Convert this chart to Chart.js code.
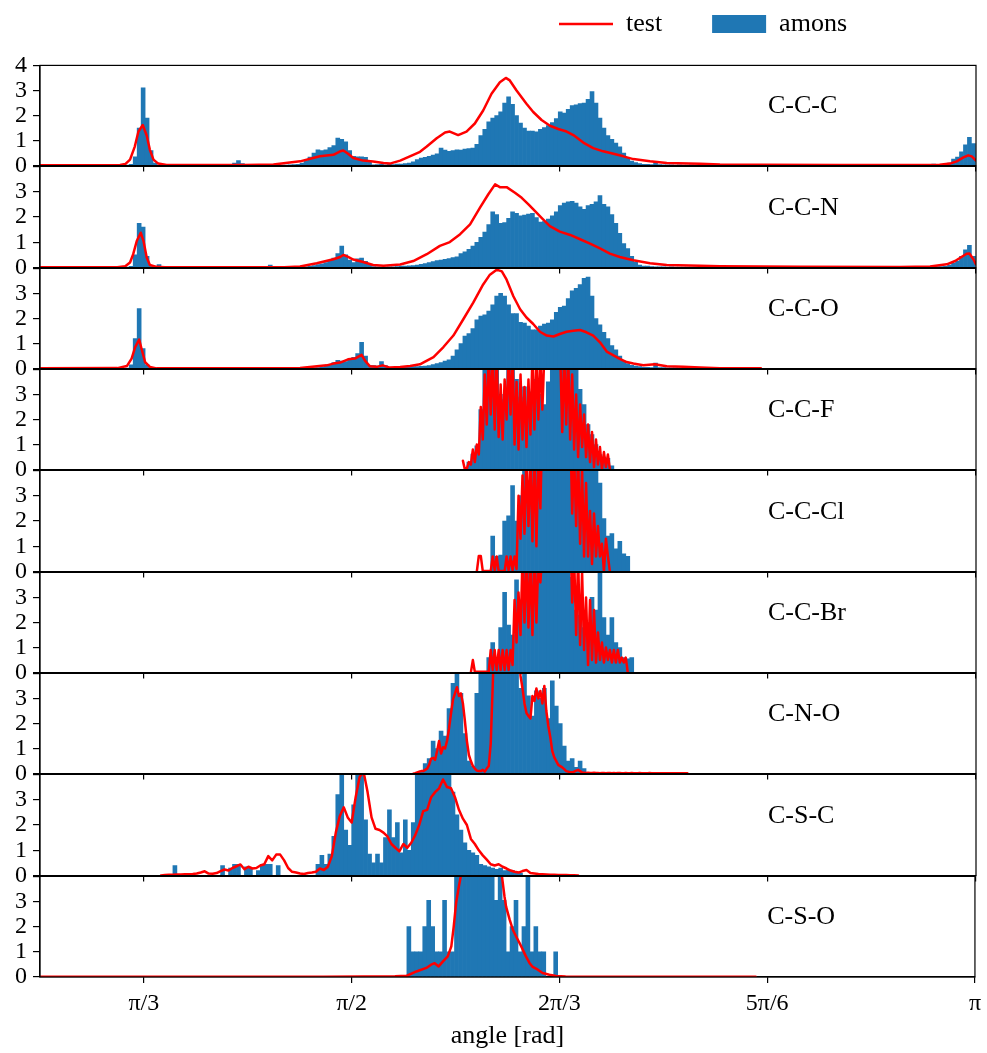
<!DOCTYPE html>
<html>
<head>
<meta charset="utf-8">
<script src="https://cdn.jsdelivr.net/npm/chart.js@4.4.0/dist/chart.umd.min.js"></script>
<style>
  body { margin: 0; background: #fff; }
  #wrap { position: relative; width: 987px; height: 1053px; overflow: hidden; background: #fff; }
  #wrap canvas { position: absolute; }
</style>
</head>
<body>
<div id="wrap"></div>
<script>
// ---- axis values ----
const angleMin = Math.PI / 4;
const angleMax = Math.PI;
const tickValues = [Math.PI / 3, Math.PI / 2, 2 * Math.PI / 3, 5 * Math.PI / 6, Math.PI];
const tickLabels = ['π/3', 'π/2', '2π/3', '5π/6', 'π'];
const yTickValues = [0, 1, 2, 3, 4];
const panelNames = ['C-C-C', 'C-C-N', 'C-C-O', 'C-C-F', 'C-C-Cl', 'C-C-Br', 'C-N-O', 'C-S-C', 'C-S-O'];

// histogram bins are 0.01 rad wide, each array starts at its *BarStart angle
const binWidth = 0.01;

// ---- C-C-C ----
const cccBarStart = 1.00;
const cccBars = [
  0.01, 0.05, 0.35, 1.5, 3.1, 1.9, 0.6, 0.1, 0.02, 0,
  0, 0, 0, 0, 0, 0, 0, 0, 0, 0,
  0.02, 0, 0.03, 0, 0.04, 0, 0.02, 0.1, 0.2, 0.08,
  0.03, 0, 0.02, 0, 0.03, 0.01, 0.02, 0.01, 0.03, 0.02,
  0.02, 0.03, 0.04, 0.05, 0.1, 0.2, 0.34, 0.5, 0.63, 0.6,
  0.63, 0.72, 0.8, 1.1, 1.05, 0.95, 0.6, 0.37, 0.35, 0.35,
  0.33, 0.15, 0.03, 0.04, 0.05, 0.03, 0.05, 0.04, 0.06, 0.06,
  0.08, 0.1, 0.15, 0.24, 0.3, 0.33, 0.37, 0.42, 0.47, 0.7,
  0.62, 0.57, 0.6, 0.63, 0.62, 0.66, 0.68, 0.7, 0.85, 1.2,
  1.45, 1.75, 1.9, 2.0, 2.15, 2.5, 2.75, 2.45, 2.0, 1.7,
  1.5, 1.38, 1.38, 1.35, 1.45, 1.52, 1.6, 1.72, 1.88, 2.15,
  2.1, 2.25, 2.4, 2.43, 2.48, 2.5, 2.65, 2.95, 2.5, 1.9,
  1.5, 1.2, 1.05, 0.9, 0.75, 0.5, 0.3, 0.18, 0.12, 0.08,
  0.05, 0.05, 0.04, 0.15, 0.04, 0.03, 0.03, 0.03, 0.02, 0.03,
  0.02, 0.02, 0.03, 0.02, 0.02, 0.01, 0.02, 0.01, 0.01, 0.01,
  0.01, 0.01, 0.01, 0, 0.01, 0, 0.01, 0, 0, 0,
  0, 0, 0, 0, 0, 0, 0, 0, 0, 0,
  0, 0, 0, 0, 0, 0, 0, 0, 0, 0,
  0, 0, 0, 0, 0, 0, 0, 0, 0, 0,
  0, 0, 0, 0, 0, 0.03, 0.04, 0.02, 0.05, 0.04,
  0.05, 0.03, 0.05, 0.06, 0.05, 0.04, 0.06, 0.1, 0.26, 0.34,
  0.55, 0.83, 1.13, 0.88
];
const cccLineX = [0.785, 0.95, 0.987, 1.000, 1.012, 1.024, 1.033, 1.044, 1.054, 1.062,
  1.071, 1.083, 1.104, 1.30, 1.373, 1.44, 1.473, 1.49, 1.524, 1.541,
  1.549, 1.561, 1.574, 1.599, 1.624, 1.65, 1.666, 1.692, 1.725, 1.742,
  1.759, 1.784, 1.805, 1.817, 1.838, 1.859, 1.88, 1.901, 1.922, 1.943,
  1.958, 1.968, 1.985, 2.01, 2.027, 2.048, 2.069, 2.09, 2.111, 2.128,
  2.153, 2.178, 2.203, 2.229, 2.254, 2.279, 2.321, 2.363, 2.447, 2.497,
  2.6, 2.8, 3.0, 3.05, 3.076, 3.093, 3.11, 3.122, 3.131, 3.139, 3.1416];
const cccLineY = [0.01, 0.01, 0.02, 0.06, 0.24, 0.76, 1.35, 1.62, 1.2, 0.63,
  0.24, 0.08, 0.02, 0.02, 0.04, 0.17, 0.3, 0.37, 0.43, 0.57,
  0.6, 0.47, 0.3, 0.2, 0.16, 0.1, 0.08, 0.2, 0.43, 0.55,
  0.76, 1.09, 1.32, 1.36, 1.22, 1.36, 1.68, 2.2, 2.87, 3.33,
  3.5, 3.4, 3.0, 2.47, 2.14, 1.82, 1.59, 1.46, 1.36, 1.22,
  0.92, 0.7, 0.57, 0.47, 0.37, 0.26, 0.17, 0.1, 0.07, 0.04,
  0.03, 0.02, 0.02, 0.03, 0.08, 0.17, 0.33, 0.41, 0.37, 0.24, 0.2];

// ---- C-C-N ----
const ccnBarStart = 1.00;
const ccnBars = [
  0.01, 0.05, 0.5, 1.75, 1.6, 0.45, 0.08, 0.05, 0.12, 0.05,
  0.02, 0, 0, 0, 0, 0, 0, 0, 0, 0,
  0, 0, 0, 0, 0, 0, 0, 0, 0, 0,
  0, 0, 0, 0, 0, 0, 0.1, 0, 0, 0,
  0, 0, 0.01, 0.02, 0.02, 0.03, 0.05, 0.08, 0.12, 0.15,
  0.2, 0.28, 0.38, 0.55, 0.85, 0.5, 0.3, 0.2, 0.35, 0.38,
  0.25, 0.12, 0.04, 0.03, 0.02, 0.02, 0.03, 0.03, 0.04, 0.06,
  0.06, 0.07, 0.08, 0.1, 0.13, 0.16, 0.2, 0.24, 0.28, 0.3,
  0.33, 0.36, 0.4, 0.43, 0.55, 0.62, 0.72, 0.85, 1.0, 1.2,
  1.4, 1.7, 2.2, 2.1, 1.75, 1.78, 1.95, 2.2, 2.15, 2.05,
  2.08, 2.12, 2.15, 1.98, 1.8, 1.82, 1.92, 2.05, 2.2, 2.45,
  2.55, 2.6, 2.62, 2.55, 2.4, 2.3, 2.45, 2.5, 2.6, 2.85,
  2.5, 2.4, 2.1, 1.75, 1.35, 0.95, 0.75, 0.45, 0.22, 0.1,
  0.06, 0.06, 0.04, 0.03, 0.03, 0.03, 0.02, 0.03, 0.02, 0.02,
  0.02, 0.02, 0.01, 0.02, 0.01, 0.01, 0.01, 0.01, 0.01, 0.01,
  0.01, 0, 0.01, 0, 0, 0.01, 0, 0, 0, 0,
  0, 0, 0, 0, 0, 0, 0, 0, 0, 0,
  0, 0, 0, 0, 0, 0, 0, 0, 0, 0,
  0, 0, 0, 0, 0, 0, 0, 0, 0, 0,
  0, 0, 0, 0, 0, 0, 0.02, 0.02, 0.03, 0.02,
  0.03, 0.03, 0.04, 0.03, 0.04, 0.04, 0.05, 0.1, 0.18, 0.26,
  0.45, 0.7, 0.88, 0.45
];
const ccnLineX = [0.785, 0.98, 1.0, 1.012, 1.020, 1.029, 1.039, 1.046, 1.054, 1.062,
  1.079, 1.10, 1.40, 1.44, 1.482, 1.524, 1.541, 1.549, 1.561, 1.574,
  1.599, 1.624, 1.65, 1.692, 1.725, 1.759, 1.792, 1.817, 1.843, 1.868,
  1.893, 1.914, 1.931, 1.943, 1.96, 1.981, 1.998, 2.015, 2.031, 2.048,
  2.069, 2.094, 2.12, 2.145, 2.17, 2.195, 2.22, 2.245, 2.279, 2.321,
  2.363, 2.447, 2.497, 2.7, 2.95, 3.026, 3.068, 3.089, 3.105, 3.118,
  3.125, 3.135, 3.1416];
const ccnLineY = [0.01, 0.01, 0.05, 0.2, 0.53, 1.05, 1.38, 1.05, 0.4, 0.1,
  0.03, 0.01, 0.01, 0.04, 0.17, 0.33, 0.42, 0.5, 0.42, 0.32,
  0.22, 0.1, 0.07, 0.12, 0.26, 0.53, 0.86, 1.01, 1.32, 1.71,
  2.37, 2.9, 3.29, 3.18, 3.18, 2.96, 2.76, 2.5, 2.24, 1.97,
  1.64, 1.42, 1.29, 1.12, 0.95, 0.76, 0.55, 0.42, 0.29, 0.17,
  0.1, 0.07, 0.05, 0.03, 0.02, 0.04, 0.13, 0.26, 0.42, 0.55,
  0.56, 0.33, 0.13];

// ---- C-C-O ----
const ccoBarStart = 1.00;
const ccoBars = [
  0.02, 0.15, 1.2, 2.4, 0.8, 0.15, 0.03, 0, 0, 0,
  0, 0, 0, 0, 0, 0, 0, 0, 0, 0,
  0, 0, 0, 0, 0, 0, 0, 0, 0, 0,
  0, 0, 0, 0, 0, 0, 0, 0, 0, 0,
  0, 0, 0, 0, 0, 0.01, 0.02, 0.03, 0.04, 0.05,
  0.1, 0.15, 0.24, 0.33, 0.3, 0.28, 0.38, 0.45, 0.6, 1.05,
  0.5, 0.12, 0.12, 0.1, 0.28, 0.12, 0.04, 0.03, 0.04, 0.05,
  0.06, 0.07, 0.08, 0.08, 0.09, 0.1, 0.12, 0.16, 0.2, 0.24,
  0.3, 0.35, 0.5, 0.75, 1.0, 1.3, 1.4, 1.6, 1.95, 2.1,
  2.15, 2.3, 2.55, 2.9, 3.0, 2.9, 2.55, 2.2, 2.2, 1.85,
  1.82, 1.7, 1.55, 1.55, 1.7, 1.78, 1.82, 1.95, 2.25, 2.45,
  2.5, 2.8, 3.1, 3.2, 3.35, 3.6, 3.65, 2.9, 2.0, 1.75,
  1.45, 1.2, 0.92, 0.75, 0.5, 0.3, 0.2, 0.13, 0.1, 0.08,
  0.05, 0.05, 0.04, 0.22, 0.04, 0.04, 0.03, 0.03, 0.03, 0.02,
  0.02, 0.02, 0.01, 0.02, 0.01, 0.01, 0.01, 0, 0.01, 0
];
const ccoLineX = [0.785, 0.98, 1.004, 1.016, 1.025, 1.035, 1.041, 1.05, 1.062, 1.079,
  1.44, 1.507, 1.524, 1.541, 1.561, 1.578, 1.595, 1.603, 1.616, 1.633,
  1.648, 1.666, 1.692, 1.717, 1.742, 1.75, 1.776, 1.801, 1.826, 1.851,
  1.876, 1.901, 1.918, 1.935, 1.948, 1.96, 1.977, 1.994, 2.01, 2.027,
  2.044, 2.061, 2.078, 2.094, 2.111, 2.128, 2.145, 2.161, 2.178, 2.195,
  2.212, 2.229, 2.245, 2.262, 2.279, 2.304, 2.333, 2.363, 2.405, 2.447,
  2.497, 2.6];
const ccoLineY = [0.01, 0.02, 0.1, 0.4, 0.86, 1.16, 0.79, 0.26, 0.07, 0.01,
  0.02, 0.13, 0.2, 0.24, 0.37, 0.4, 0.55, 0.33, 0.09, 0.07,
  0.13, 0.04, 0.06, 0.1, 0.17, 0.24, 0.46, 0.86, 1.32, 1.97,
  2.63, 3.36, 3.75, 3.95, 3.88, 3.55, 2.89, 2.37, 2.04, 1.78,
  1.47, 1.32, 1.28, 1.38, 1.47, 1.51, 1.54, 1.45, 1.32, 1.05,
  0.68, 0.53, 0.39, 0.26, 0.2, 0.13, 0.17, 0.09, 0.07, 0.04,
  0.01, 0.01];

// ---- C-C-F ----
const ccfBarStart = 1.86;
const ccfBars = [
  0.3, 0.62, 0.95, 2.4, 4.5, 4.5, 4.5, 4.2, 2.8, 3.0,
  4.5, 4.5, 3.6, 2.9, 3.3, 2.5, 3.1, 3.6, 3.0, 2.6,
  3.5, 4.5, 4.5, 4.5, 4.5, 4.5, 4.5, 4.5, 3.2, 2.6,
  1.8, 1.4, 1.0, 0.6, 0.5, 0.45, 0.15
];
// noisy curves: one value every 0.005 rad from *LineStart
const ccfLineStart = 1.850;
const ccfLine = [
  0.35, 0.0, 0.05, 0.3, 0.2, 0.8, 0.3, 1.0, 0.6, 2.5,
  1.2, 3.8, 1.8, 4.6, 2.2, 4.6, 1.6, 4.6, 1.3, 3.4,
  1.2, 3.6, 2.0, 4.6, 2.2, 4.6, 1.0, 3.5, 0.8, 3.8,
  1.2, 3.3, 0.9, 3.6, 1.4, 4.6, 1.6, 4.6, 2.0, 4.6,
  2.4, 4.6, 5.5, 5.5, 5.5, 5.5, 5.5, 5.5, 5.5, 4.6,
  1.5, 4.6, 1.8, 4.6, 1.2, 3.8, 0.8, 3.0, 0.5, 2.6,
  0.9, 2.2, 0.5, 1.8, 0.3, 1.5, 0.1, 1.2, 0.2, 0.9,
  0.0, 0.7, 0.1, 0.6, 0.0
];

// ---- C-C-Cl ----
const ccclBarStart = 1.92;
const ccclBars = [
  1.4, 0.6, 0.65, 2.0, 2.2, 3.4, 2.0, 3.0, 4.5, 3.6,
  4.5, 4.5, 4.5, 4.5, 4.5, 4.5, 4.5, 4.5, 4.5, 4.5,
  4.5, 4.5, 4.5, 4.5, 4.5, 4.5, 4.5, 3.5, 2.1, 1.4,
  1.5, 0.9, 1.2, 0.7, 0.6
];
const ccclLineStart = 1.885;
const ccclLine = [
  0.0, 0.62, 0.62, 0.02, 0.02, 0.02, 0.02, 0.02, 0.6, 0.05,
  0.6, 0.02, 0.02, 0.02, 0.02, 0.6, 0.05, 0.6, 0.05, 0.6,
  0.1, 3.0, 1.3, 3.8, 1.5, 4.6, 1.8, 4.6, 1.2, 4.6,
  1.0, 4.6, 2.5, 6, 6, 6, 6, 6, 6, 6,
  6, 6, 6, 6, 6, 6, 6, 6, 2.3, 4.6,
  1.8, 4.6, 1.1, 4.0, 0.6, 3.5, 0.6, 2.4, 0.3, 2.3,
  0.6, 1.8, 0.6, 1.1, 0.0, 1.3, 0.6, 0.0
];

// ---- C-C-Br ----
const ccbrBarStart = 1.91;
const ccbrBars = [
  0.6, 1.2, 0.6, 1.8, 3.2, 1.9, 1.5, 3.7, 2.9, 4.5,
  4.5, 4.5, 4.5, 4.5, 4.5, 4.5, 4.5, 4.5, 4.5, 4.5,
  4.5, 3.8, 2.5, 2.3, 1.8, 2.0, 3.0, 2.5, 4.2, 2.2,
  1.5, 2.2, 1.2, 1.0, 0.6, 0.55, 0.6
];
const ccbrLineStart = 1.870;
const ccbrLine = [
  0.0, 0.5, 0.03, 0.03, 0.03, 0.03, 0.03, 0.03, 0.03, 0.03,
  0.9, 0.1, 0.9, 0.1, 0.9, 0.1, 0.9, 0.1, 0.9, 0.1,
  0.9, 0.3, 2.9, 1.2, 3.2, 1.5, 4.6, 2.0, 4.6, 1.8,
  4.6, 1.5, 4.6, 2.0, 4.6, 3.6, 4.8, 6, 6, 6,
  6, 6, 6, 6, 6, 6, 6, 6, 6, 6,
  6, 2.8, 4.6, 1.5, 4.6, 1.1, 4.0, 0.9, 3.0, 0.3,
  2.9, 0.5, 2.5, 0.4, 1.6, 0.5, 1.2, 0.4, 1.0, 0.5,
  0.9, 0.4, 0.9, 0.4, 0.9, 0.4, 0.6, 0.4, 0.6, 0.0
];

// ---- C-N-O ----
const cnoBarStart = 1.74;
const cnoBars = [
  0.1, 0.4, 0.6, 1.3, 1.0, 1.7, 1.5, 2.6, 3.6, 4.2,
  3.2, 1.6, 0.5, 0.3, 3.2, 4.5, 4.5, 4.5, 4.5, 4.5,
  4.5, 4.5, 4.5, 4.5, 4.5, 3.4, 4.2, 3.1, 2.3, 3.3,
  3.0, 3.4, 2.2, 3.7, 2.7, 2.0, 1.1, 0.5, 0.6, 0.25,
  0.5, 0.2
];
const cnoLineStart = 1.725;
const cnoLine = [
  0.0, 0.02, 0.05, 0.08, 0.1, 0.1, 0.15, 0.2, 0.35, 0.6,
  0.63, 0.55, 0.9, 1.3, 0.8, 1.05, 1.0, 1.3, 1.8, 2.4,
  2.95, 3.2, 3.45, 3.1, 3.2, 2.8, 2.1, 1.3, 0.75, 0.5,
  0.3, 0.2, 0.12, 0.1, 0.1, 0.15, 0.08, 0.2, 0.3, 1.2,
  3.5, 6, 6, 6, 6, 6, 6, 6, 6, 6,
  6, 6, 6, 6, 3.9, 3.4, 2.8, 2.42, 2.3, 2.2,
  3.1, 2.9, 3.4, 3.0, 3.3, 2.8, 3.5, 2.5, 1.9, 1.45,
  0.9, 0.65, 0.5, 0.35, 0.3, 0.25, 0.18, 0.1, 0.08, 0.05,
  0.05, 0.08, 0.12, 0.15, 0.1, 0.04, 0.03, 0.02, 0.03, 0.02,
  0.02, 0.03, 0.02, 0.02, 0.01, 0.02, 0.02, 0.01, 0.02, 0.02,
  0.01, 0.02, 0.01, 0.02, 0.02, 0.01, 0.01, 0.02, 0.01, 0.01,
  0.02, 0.01, 0.01, 0.01, 0.02, 0.01, 0.01, 0.01, 0.01, 0.02,
  0.01, 0.01, 0.01, 0.01, 0.01, 0.01, 0.01, 0.01, 0.01, 0.01,
  0.01, 0.01, 0.01, 0.01, 0.01, 0.01, 0.01, 0.01, 0.01
];

// ---- C-S-C ----
const cscBarStart = 1.10;
const cscBars = [
  0, 0, 0.4, 0, 0, 0, 0, 0, 0, 0,
  0, 0, 0, 0, 0.4, 0, 0.3, 0.45, 0.45, 0,
  0.35, 0.3, 0, 0.2, 0.45, 0.45, 0.45, 0, 0.4, 0,
  0, 0, 0, 0, 0, 0, 0, 0, 0.45, 0.8,
  0.45, 0.85, 1.55, 3.2, 4.3, 1.8, 1.2, 2.8, 4.3, 4.0,
  2.2, 0.85, 0.5, 0.85, 0.5, 1.5, 2.6, 1.5, 2.1, 0.9,
  2.2, 1.0, 2.1, 4.3, 4.5, 4.5, 4.5, 4.5, 4.5, 4.5,
  4.5, 4.5, 3.3, 2.4, 1.8, 1.3, 1.0, 0.9, 0.8, 0.45,
  0.4, 0.35, 0.3, 0.25, 0.3, 0.2, 0.22, 0.2, 0.15, 0.1
];
const cscLineStart = 1.09;
const cscLineStep = 0.01;
const cscLine = [
  0.0, 0.02, 0.03, 0.03, 0.04, 0.04, 0.05, 0.05, 0.06, 0.08,
  0.12, 0.17, 0.08, 0.07, 0.1, 0.18, 0.24, 0.2, 0.3, 0.37,
  0.44, 0.25, 0.35, 0.28, 0.3, 0.4, 0.45, 0.77, 0.6, 0.83,
  0.83, 0.6, 0.3, 0.15, 0.12, 0.08, 0.06, 0.1, 0.12, 0.15,
  0.28, 0.22, 0.35, 0.77, 1.7, 2.35, 2.7, 2.3, 2.1, 3.1,
  3.9, 4.1, 3.3, 2.3, 1.85, 1.8, 1.7, 1.55, 1.25, 1.1,
  0.96, 1.25, 1.1, 1.3, 1.6, 2.0, 2.55, 2.6, 3.1, 3.3,
  3.45, 3.8, 3.5, 3.45, 3.1, 2.6, 2.25, 2.0, 1.45, 1.25,
  1.0, 0.8, 0.63, 0.45, 0.4, 0.45, 0.35, 0.28, 0.2, 0.15,
  0.12, 0.18, 0.22, 0.1, 0.08, 0.06, 0.05, 0.04, 0.03, 0.03,
  0.02, 0.02, 0.02, 0.01, 0.01, 0.0
];

// ---- C-S-O ----
const csoBarStart = 1.70;
const csoBars = [
  0, 2.0, 1.0, 1.0, 1.0, 2.0, 3.05, 2.0, 1.0, 1.0,
  3.05, 1.0, 1.0, 4.5, 4.5, 4.5, 4.5, 4.5, 4.5, 4.5,
  4.5, 4.5, 4.5, 3.05, 4.5, 3.05, 1.0, 2.0, 3.05, 1.0,
  2.0, 4.5, 1.0, 2.0, 1.0, 1.0, 0, 0, 1.0
];
const csoLineX = [0.785, 1.50, 1.60, 1.68, 1.71, 1.734, 1.759, 1.771, 1.78, 1.79,
  1.801, 1.813, 1.822, 1.828, 1.834, 1.841, 1.847, 1.86, 1.90, 1.94,
  1.948, 1.952, 1.956, 1.96, 1.969, 1.977, 1.985, 1.994, 2.002, 2.01,
  2.019, 2.027, 2.04, 2.052, 2.069, 2.086, 2.11, 2.589];
const csoLineY = [0.01, 0.01, 0.02, 0.03, 0.05, 0.22, 0.36, 0.49, 0.55, 0.42,
  0.62, 0.82, 1.22, 2.0, 2.94, 3.6, 4.1, 5.5, 6.5, 5.0,
  4.2, 3.7, 3.2, 2.8, 2.28, 1.88, 1.62, 1.35, 1.09, 0.82,
  0.56, 0.4, 0.29, 0.16, 0.09, 0.04, 0.02, 0.01];

const noisyStep = 0.005;

// ---- helpers ----
function bars(start, values) {
  return values.map((v, i) => ({ x: start + (i + 0.5) * binWidth, y: v }));
}
function pairs(xs, ys) {
  return xs.map((x, i) => ({ x: x, y: ys[i] }));
}
function stepped(start, step, ys) {
  return ys.map((y, i) => ({ x: start + i * step, y: y }));
}

const panels = [
  { bars: bars(cccBarStart, cccBars), line: pairs(cccLineX, cccLineY) },
  { bars: bars(ccnBarStart, ccnBars), line: pairs(ccnLineX, ccnLineY) },
  { bars: bars(ccoBarStart, ccoBars), line: pairs(ccoLineX, ccoLineY) },
  { bars: bars(ccfBarStart, ccfBars), line: stepped(ccfLineStart, noisyStep, ccfLine) },
  { bars: bars(ccclBarStart, ccclBars), line: stepped(ccclLineStart, noisyStep, ccclLine) },
  { bars: bars(ccbrBarStart, ccbrBars), line: stepped(ccbrLineStart, noisyStep, ccbrLine) },
  { bars: bars(cnoBarStart, cnoBars), line: stepped(cnoLineStart, noisyStep, cnoLine) },
  { bars: bars(cscBarStart, cscBars), line: stepped(cscLineStart, cscLineStep, cscLine) },
  { bars: bars(csoBarStart, csoBars), line: pairs(csoLineX, csoLineY) }
];

// ---- layout ----
const W = 987, H = 1053;
const plotLeft = 40, plotRight = 976, plotTop = 65, plotBottom = 977;
const edges = [];
for (let i = 0; i <= 9; i++) edges.push(Math.round(plotTop + i * (plotBottom - plotTop) / 9));

const FONT = "'Liberation Serif', 'DejaVu Serif', serif";
Chart.defaults.font.family = FONT;
Chart.defaults.font.size = 24;
Chart.defaults.color = '#000';

const BLUE = '#1f77b4';
const RED = '#ff0000';

// top and right spines
const framePlugin = {
  id: 'frame',
  afterDraw(chart) {
    const a = chart.chartArea, ctx = chart.ctx;
    ctx.save();
    ctx.strokeStyle = '#000';
    ctx.lineWidth = 1.2;
    ctx.strokeRect(a.left, a.top, a.right - a.left, a.bottom - a.top);
    ctx.restore();
  }
};

// bond-angle name inside each panel
const namePlugin = {
  id: 'panelName',
  afterDatasetsDraw(chart, args, opts) {
    const a = chart.chartArea, ctx = chart.ctx;
    ctx.save();
    ctx.font = '26px ' + FONT;
    ctx.fillStyle = '#000';
    ctx.textAlign = 'left';
    ctx.textBaseline = 'middle';
    ctx.fillText(opts.text, chart.scales.x.getPixelForValue(5 * Math.PI / 6), a.top + 0.41 * (a.bottom - a.top));
    ctx.restore();
  }
};

const wrap = document.getElementById('wrap');

panels.forEach((p, i) => {
  const isLast = i === panels.length - 1;
  const padT = 20;
  const padB = isLast ? H - edges[9] : 20;
  const canvas = document.createElement('canvas');
  canvas.width = W;
  canvas.height = (edges[i + 1] - edges[i]) + padT + padB;
  canvas.style.left = '0px';
  canvas.style.top = (edges[i] - padT) + 'px';
  wrap.appendChild(canvas);

  new Chart(canvas, {
    type: 'bar',
    data: {
      datasets: [
        {
          type: 'line', label: 'test', data: p.line,
          borderColor: RED, borderWidth: 2.5, pointRadius: 0, tension: 0,
          borderJoinStyle: 'round', borderCapStyle: 'round', order: 0
        },
        {
          type: 'bar', label: 'amons', data: p.bars,
          backgroundColor: BLUE, borderWidth: 0,
          barPercentage: 1, categoryPercentage: 1, order: 1
        }
      ]
    },
    options: {
      responsive: false,
      animation: false,
      devicePixelRatio: 1,
      layout: { padding: { top: padT, right: W - plotRight, bottom: 0, left: 0 } },
      plugins: {
        legend: { display: false },
        tooltip: { enabled: false },
        panelName: { text: panelNames[i] }
      },
      scales: {
        x: {
          type: 'linear', min: angleMin, max: angleMax, offset: false,
          afterFit: s => { s.height = padB; },
          afterBuildTicks: s => { s.ticks = tickValues.map(v => ({ value: v })); },
          ticks: {
            display: isLast, autoSkip: false, maxRotation: 0, padding: 6,
            callback: (v, idx) => tickLabels[idx]
          },
          grid: { drawOnChartArea: false, offset: false, tickLength: 6, color: '#000', lineWidth: 1.2 },
          border: { color: '#000', width: 1.2 },
          title: { display: isLast, text: 'angle [rad]', font: { size: 26 }, padding: { top: 0, bottom: 1 } }
        },
        y: {
          min: 0, max: 4,
          afterFit: s => { s.width = plotLeft; },
          afterBuildTicks: s => { s.ticks = yTickValues.map(v => ({ value: v })); },
          ticks: {
            padding: 6, autoSkip: false,
            callback: v => (i === 0 || v < 4) ? String(v) : ''
          },
          grid: { drawOnChartArea: false, tickLength: 7, color: '#000', lineWidth: 1.2 },
          border: { color: '#000', width: 1.2 }
        }
      }
    },
    plugins: [framePlugin, namePlugin]
  });
});

// ---- legend (own small chart above the panels) ----
const legendCanvas = document.createElement('canvas');
legendCanvas.width = 440;
legendCanvas.height = 300;
legendCanvas.style.left = '483px';
legendCanvas.style.top = '-39px';
wrap.appendChild(legendCanvas);

new Chart(legendCanvas, {
  type: 'bar',
  data: {
    datasets: [
      { type: 'line', label: 'test', data: [], borderColor: RED },
      { type: 'bar', label: 'amons', data: [], backgroundColor: BLUE }
    ]
  },
  options: {
    responsive: false,
    animation: false,
    devicePixelRatio: 1,
    scales: { x: { display: false }, y: { display: false } },
    plugins: {
      tooltip: { enabled: false },
      legend: {
        display: true, position: 'top', align: 'center',
        labels: {
          usePointStyle: true, pointStyleWidth: 54, boxHeight: 18, padding: 50,
          font: { size: 26 },
          generateLabels: () => [
            { text: 'test', fillStyle: RED, strokeStyle: RED, lineWidth: 2.5, pointStyle: 'line', hidden: false, datasetIndex: 0, fontColor: '#000' },
            { text: 'amons', fillStyle: BLUE, strokeStyle: BLUE, lineWidth: 0, pointStyle: 'rect', hidden: false, datasetIndex: 1, fontColor: '#000' }
          ]
        }
      }
    }
  }
});
</script>
</body>
</html>
